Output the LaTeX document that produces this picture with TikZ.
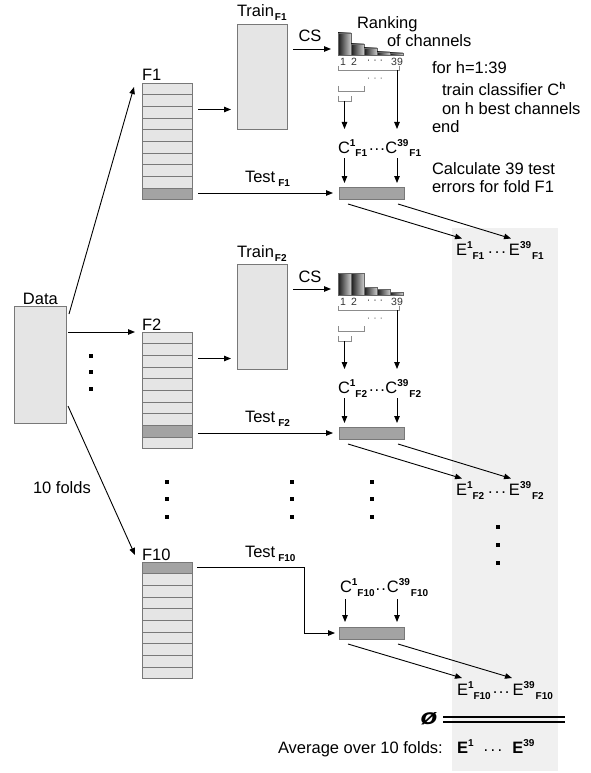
\documentclass[tikz,border=0pt]{standalone}
\usepackage{fontspec}
\setmainfont{Liberation Sans}
\usetikzlibrary{arrows.meta,calc}
\definecolor{boxfill}{RGB}{229,229,229}
\definecolor{panelfill}{RGB}{240,240,240}
\definecolor{darkrow}{RGB}{163,163,163}
\definecolor{edgegray}{RGB}{120,120,120}
\newcommand\sbx[1]{\raisebox{-4pt}{\fontsize{10}{12}\selectfont\bfseries #1}}
\newcommand\spx[1]{\raisebox{6.5pt}{\fontsize{10}{12}\selectfont\bfseries #1}}
\newcommand\rdot{\raisebox{2pt}{.}}
\tikzset{
  lbl/.style={font=\fontsize{16.5}{19}\selectfont, inner sep=0pt, outer sep=0pt},
  smallnum/.style={font=\fontsize{10.5}{11}\selectfont, inner sep=0pt, text=black!80},
  arr/.style={line width=0.9pt, -{Triangle[length=7pt,width=5.5pt]}},
  plainline/.style={line width=0.9pt},
  graybox/.style={draw=edgegray, fill=boxfill, line width=0.8pt, inner sep=0pt, outer sep=0pt},
  rowbox/.style={draw=edgegray, fill=boxfill, line width=0.7pt},
  testbar/.style={draw=edgegray, fill=darkrow, line width=0.8pt, inner sep=0pt, outer sep=0pt, minimum width=65pt, minimum height=12pt, anchor=north west},
  brk/.style={draw=black!45, line width=0.7pt},
  dotsq/.style={fill=black, inner sep=0pt, minimum size=4pt},
  barshade/.style={left color=black!90, right color=black!20, draw=black!60, line width=0.3pt},
}
% stack of 10 rows: #1 name, #2 top-left, #3 index of dark row
\newcommand\mystack[3]{%
  \node[inner sep=0pt, outer sep=0pt, minimum width=50pt, minimum height=116.7pt, anchor=north west] (#1) at #2 {};
  \foreach \i in {0,...,9}{\draw[rowbox] ($(#1.north west)+(0,\i*11.67)$) rectangle ++(50,11.67);}
  \node[draw=edgegray, fill=darkrow, line width=0.7pt, inner sep=0pt, outer sep=0pt, minimum width=50pt, minimum height=11.67pt, anchor=north west] (#1dark) at ($(#1.north west)+(0,#3*11.67)$) {};
}
% one fold section: #1 suffix, #2 y offset, #3 fold label, #4 bar tops, #5 stack top, #6 dark row
\newcommand\fsect[6]{%
\begin{scope}[shift={(0,#2)}]
  \mystack{f#1}{(142,#5)}{#6}
  \node[lbl, anchor=base west] (flbl#1) at (142,#5-2) {#3};
  \node[graybox, minimum width=50pt, minimum height=105pt, anchor=north west] (train#1) at (237,24) {};
  \node[lbl, anchor=base west] (trainlbl#1) at (237,17) {Train\hspace{1pt}\sbx{#3}};
  \path ([shift={(6,26.5)}]f#1.north east) coordinate (fo#1);
  \draw[arr, shorten >=6pt] (fo#1) -- (fo#1 -| train#1.west);
  % histogram
  \node[inner sep=0pt, outer sep=0pt, minimum width=65pt, minimum height=22pt, anchor=south west] (hist#1) at (338,55) {};
  \foreach \t [count=\k from 0] in {#4} {\shade[barshade] (338+\k*13,55) rectangle (351+\k*13,\t);}
  \coordinate (cs#1) at (293,49);
  \draw[arr, shorten >=7pt] (cs#1) -- (cs#1 -| hist#1.west);
  \node[lbl, anchor=base] (cslbl#1) at (310,42) {CS};
  \node[smallnum] (na#1) at (343,62) {1};
  \node[smallnum] (nb#1) at (354,62) {2};
  \node[smallnum] (nc#1) at (375,62) {·\hspace{3pt}·\hspace{3pt}·};
  \node[smallnum] (nd#1) at (397,62) {39};
  % brackets
  \draw[brk] (338,66) -- (338,70) -- (399,70) -- (399,66);
  \draw[brk] (338,86) -- (338,91) -- (364,91) -- (364,86);
  \draw[brk] (338,96) -- (338,101) -- (351,101) -- (351,96);
  \node[smallnum, text=black!55] (bd#1) at (375,80) {·\hspace{3pt}·\hspace{3pt}·};
  \coordinate (bk#1) at (344.5,101);
  \coordinate (bkr#1) at (397,70);
  % classifiers
  \node[lbl, anchor=base west] (c#1) at (338,153) {C\spx{1}\sbx{#3}\hspace{2pt}\rdot\hspace{1pt}\rdot\hspace{1pt}\rdot\hspace{0.5pt}C\spx{39}\hspace{1pt}\sbx{#3}};
  \draw[arr] (bk#1) -- ([shift={(6.5,-24)}]c#1.base west);
  \draw[arr] (bkr#1) -- ([shift={(59,-24)}]c#1.base west);
  % test bar
  \node[testbar] (bar#1) at (339,187) {};
  \draw[arr] ([shift={(6.5,5)}]c#1.base west) -- ([shift={(5.5,-4)}]bar#1.north west);
  \draw[arr] ([shift={(59,5)}]c#1.base west) -- ([shift={(58,-4)}]bar#1.north west);
  \draw[arr, shorten <=6pt, shorten >=6pt] (bar#1.west -| f#1dark.east) -- (bar#1.west);
  \node[lbl, anchor=base west] (testlbl#1) at (245,182) {Test\hspace{3pt}\sbx{#3}};
  % errors
  \node[lbl, anchor=base west] (e#1) at (456,255) {E\spx{1}\sbx{#3}\hspace{4pt}\rdot\hspace{2pt}\rdot\hspace{2pt}\rdot\hspace{3pt}E\spx{39}\hspace{1pt}\sbx{#3}};
  \draw[arr] ([shift={(9,5)}]bar#1.south west) -- ([shift={(6,-16.5)}]e#1.base west);
  \draw[arr] ([shift={(-6,5)}]bar#1.south east) -- ([shift={(55,-16.5)}]e#1.base west);
\end{scope}}
\begin{document}
\begin{tikzpicture}[x=1pt,y=-1pt]
\useasboundingbox (0,0) rectangle (590,773);
\fill[panelfill] (452,228) rectangle (558,771);

% data
\node[graybox, minimum width=52pt, minimum height=117pt, anchor=north west] (data) at (14,306) {};
\node[lbl, anchor=base west] (datalbl) at (23,304) {Data};
\node[lbl, anchor=base west] (folds) at (33,493) {10 folds};

\fsect{1}{0}{F1}{33,44,48,52,53}{83}{9}
\fsect{2}{240}{F2}{33,33,47,49,52}{92}{8}

% F1-only texts
\node[lbl, anchor=base west] (rank) at (357,28.5) {Ranking};
\node[lbl, anchor=base west] (ofch) at (387,47) {of channels};
\node[lbl, anchor=base west] (forh) at (432,74) {for h=1:39};
\node[lbl, anchor=base west] (trainc) at (442,96) {train classifier C\spx{h}};
\node[lbl, anchor=base west] (onh) at (442,114) {on h best channels};
\node[lbl, anchor=base west] (endl) at (432,132) {end};
\node[lbl, anchor=base west] (calc1) at (432,174) {Calculate 39 test};
\node[lbl, anchor=base west] (calc2) at (432,192) {errors for fold F1};

% F10 section
\mystack{f10}{(142,562)}{0}
\node[lbl, anchor=base west] (flbl10) at (142,560) {F10};
\node[lbl, anchor=base west] (testlbl10) at (245,557) {Test\hspace{3pt}\sbx{F10}};
\node[testbar] (bar10) at (339,627) {};
\coordinate (turn10) at (304,633);
\draw[plainline, shorten <=5pt] (f10dark.east) -| (turn10);
\draw[arr, shorten >=4pt] (turn10) -- (bar10.west);
\node[lbl, anchor=base west] (c10) at (340,592) {C\spx{1}\sbx{F10}\hspace{1pt}\rdot\hspace{1pt}\rdot\hspace{1pt}C\spx{39}\hspace{1pt}\sbx{F10}};
\draw[arr] ([shift={(5,7)}]c10.base west) -- ([shift={(6,-5)}]bar10.north west);
\draw[arr] ([shift={(57,7)}]c10.base west) -- ([shift={(58,-5)}]bar10.north west);
\node[lbl, anchor=base west] (e10) at (457,695) {E\spx{1}\sbx{F10}\hspace{2pt}\rdot\hspace{1.5pt}\rdot\hspace{1.5pt}\rdot\hspace{3pt}E\spx{39}\hspace{1pt}\sbx{F10}};
\draw[arr] ([shift={(9,5)}]bar10.south west) -- ([shift={(5,-17)}]e10.base west);
\draw[arr] ([shift={(-6,5)}]bar10.south east) -- ([shift={(55,-17)}]e10.base west);

% data arrows
\draw[arr] ([shift={(3,8)}]data.north east) -- ([shift={(-8,4)}]f1.north west);
\draw[arr, shorten <=2pt, shorten >=7pt] (data.east |- f2.north west) -- (f2.north west);
\draw[arr] ([shift={(2,100)}]data.north east) -- ([shift={(-7,-7)}]f10.north west);

% dots
\foreach \x/\y [count=\n] in {91/356,91/372,91/389,167/482,167/499,167/517,292/482,292/499,292/517,372/482,372/499,372/517,498/527,498/545,498/563}
  \node[dotsq] (dot\n) at (\x,\y) {};

% average
\node[lbl, font=\fontsize{22}{22}\selectfont\bfseries\itshape] (avgsym) at (429,719) {\scalebox{1.25}[1]{ø}};
\coordinate (dla) at (443,716.8);
\coordinate (dlb) at (565,716.8);
\coordinate (dlc) at (443,722.2);
\coordinate (dld) at (565,722.2);
\draw[line width=2.2pt] (dla) -- (dlb);
\draw[line width=2.2pt] (dlc) -- (dld);
\node[lbl, anchor=base west] (avg) at (278,753) {Average over 10 folds:};
\node[lbl, anchor=base west] (eavg) at (457,753) {\textbf{E}\spx{1}\hspace{10pt}\rdot\hspace{2.5pt}\rdot\hspace{2.5pt}\rdot\hspace{10pt}\textbf{E}\spx{39}};
\end{tikzpicture}
\end{document}
